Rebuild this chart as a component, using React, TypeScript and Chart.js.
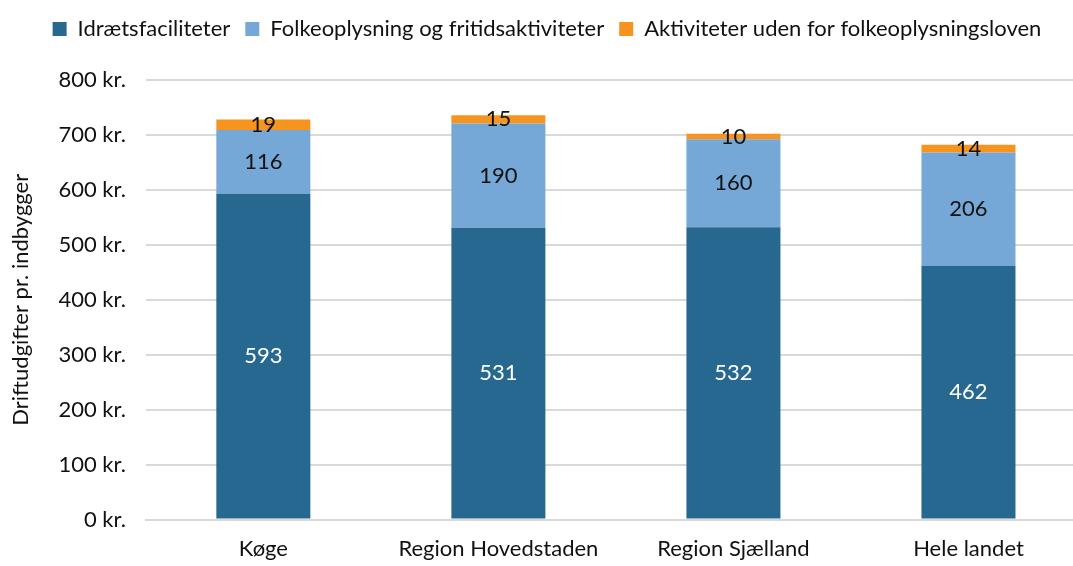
import React, { useEffect, useRef } from "react";
import { Chart, registerables } from "chart.js";
Chart.register(...registerables);

const categories = ["Køge", "Region Hovedstaden", "Region Sjælland", "Hele landet"];
const idraet = [593, 531, 532, 462];
const folkeoplysning = [116, 190, 160, 206];
const aktiviteter = [19, 15, 10, 14];
const seriesNames = ["Idrætsfaciliteter", "Folkeoplysning og fritidsaktiviteter", "Aktiviteter uden for folkeoplysningsloven"];
const colors = ["#26688F", "#75A8D6", "#F7941D"];
const labelColors = ["#FFFFFF", "#111111", "#111111"];
const FONT = "Lato, 'Open Sans', sans-serif";
const FS = 22;
const CW = 1117;
const CH = 570;

const labelPlugin = {
  id: "segLabels",
  afterDatasetsDraw(chart: any) {
    const ctx = chart.ctx;
    ctx.save();
    ctx.font = `${FS}px ${FONT}`;
    ctx.textAlign = "center";
    ctx.textBaseline = "middle";
    chart.data.datasets.forEach((ds: any, di: number) => {
      const meta = chart.getDatasetMeta(di);
      meta.data.forEach((bar: any, i: number) => {
        const y = (bar.y + bar.base) / 2;
        ctx.fillStyle = labelColors[di];
        ctx.fillText(String(ds.data[i]), bar.x, y);
      });
    });
    ctx.restore();
  },
};

const legendSpace = {
  id: "legendSpace",
  beforeInit(chart: any) {
    const orig = chart.legend.fit;
    chart.legend.fit = function () {
      orig.bind(this)();
      this.height += 30;
    };
  },
};

export default function App() {
  const ref = useRef<HTMLCanvasElement>(null);
  useEffect(() => {
    const chart = new Chart(ref.current!, {
      type: "bar",
      data: {
        labels: categories,
        datasets: [idraet, folkeoplysning, aktiviteter].map((d, i) => ({
          label: seriesNames[i],
          data: d,
          backgroundColor: colors[i],
          barPercentage: 0.4,
          categoryPercentage: 1,
        })),
      },
      options: {
        animation: false,
        responsive: false,
        layout: { padding: { left: 8, right: 31, top: 3, bottom: 0 } },
        plugins: {
          legend: {
            position: "top",
            labels: {
              font: { size: FS, family: FONT },
              color: "#111",
              boxWidth: 14,
              boxHeight: 14,
              padding: 15,
            },
          },
          tooltip: { enabled: false },
        },
        scales: {
          x: {
            stacked: true,
            grid: { display: false },
            border: { color: "#D9D9D9", width: 2 },
            ticks: { font: { size: FS, family: FONT }, color: "#111", padding: 8 },
          },
          y: {
            stacked: true,
            min: 0,
            max: 800,
            ticks: {
              stepSize: 100,
              font: { size: FS, family: FONT },
              color: "#111",
              padding: 20,
              callback: (v: any) => `${v} kr.`,
            },
            grid: { color: "#D9D9D9", lineWidth: 2, drawTicks: false },
            border: { display: false },
            title: {
              display: true,
              text: "Driftudgifter pr. indbygger",
              font: { size: FS, family: FONT },
              color: "#111",
              padding: { top: 0, bottom: 4 },
            },
          },
        },
      },
      plugins: [labelPlugin, legendSpace],
    });
    return () => chart.destroy();
  }, []);
  return (
    <div style={{ position: "fixed", left: 0, top: 0, width: 1073, height: 566, overflow: "hidden", background: "#fff" }}>
      <canvas ref={ref} width={CW} height={CH} style={{ display: "block" }} />
    </div>
  );
}
